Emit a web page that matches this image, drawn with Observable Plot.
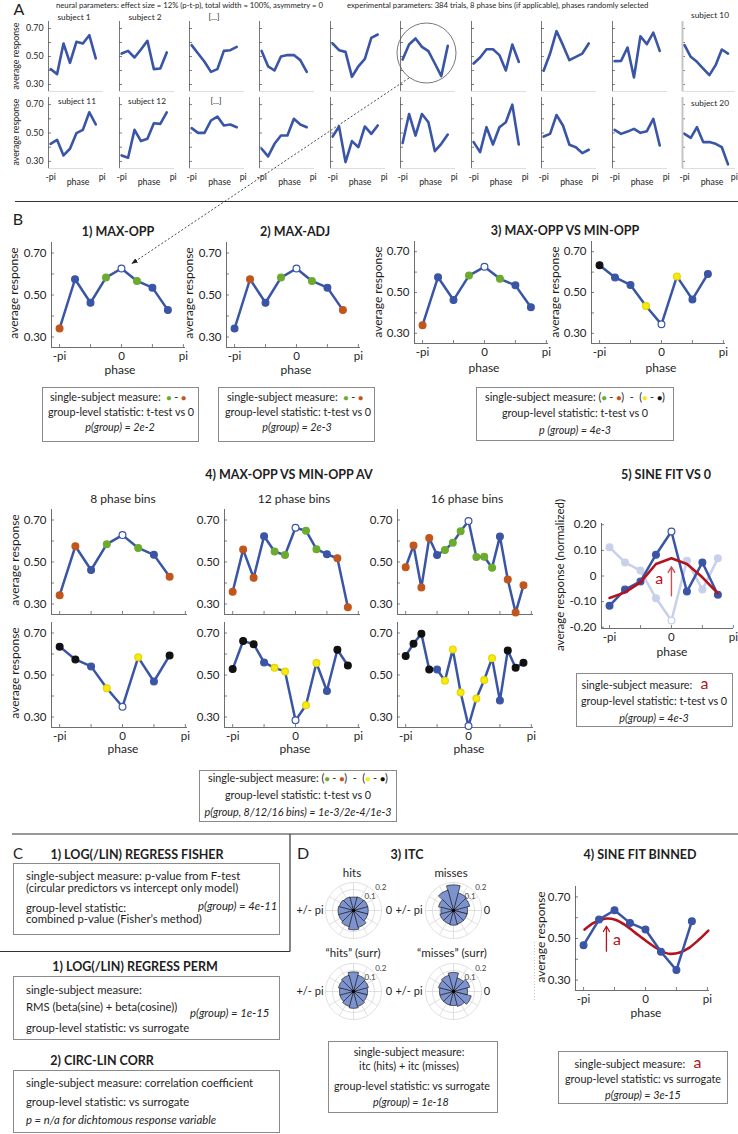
<!DOCTYPE html>
<html><head><meta charset="utf-8">
<script src="https://cdn.jsdelivr.net/npm/d3@7"></script>
<script src="https://cdn.jsdelivr.net/npm/@observablehq/plot@0.6"></script>
<style>
body{margin:0;background:#fff;}
#fig{position:relative;width:738px;height:1134px;overflow:hidden;font-family:Lato,"Open Sans",sans-serif;color:#1e1e1e;background:#fff;}
.t{position:absolute;white-space:nowrap;line-height:0.9;}
.box{position:absolute;border:1px solid #8a8a8a;box-sizing:border-box;}
#fig svg{overflow:visible;}
</style></head><body><div id="fig"></div>
<script>
// ---------------- DATA ----------------
const phase8 = [-3.1416,-2.3562,-1.5708,-0.7854,0,0.7854,1.5708,2.3562];
const phase12 = [-3.1416,-2.618,-2.0944,-1.5708,-1.0472,-0.5236,0,0.5236,1.0472,1.5708,2.0944,2.618];
const phase16 = [-3.1416,-2.7489,-2.3562,-1.9635,-1.5708,-1.1781,-0.7854,-0.3927,0,0.3927,0.7854,1.1781,1.5708,1.9635,2.3562,2.7489];
const phaseTicks = [-3.1416, 0, 3.1416];
const phaseTickLabels = ["-pi","0","pi"];
const phaseTicksA = [-3.1416, 3.1416];
const phaseTickLabelsA = ["-pi","pi"];
const phaseMinor = [-3.1416,-1.5708,0,1.5708,3.1416];
const respTicks = [0.3,0.5,0.7];
const respMinor = [0.3,0.4,0.5,0.6,0.7];
const normTicks = [-0.2,-0.1,0,0.1,0.2];
const normTickLabels = ["-0.20","-0.10","0","0.10","0.20"];

// panel A: 10 subjects per row (8 phase bins)
const aRow1 = [
 [0.41,0.374,0.593,0.455,0.605,0.593,0.652,0.486],
 [0.521,0.54,0.493,0.55,0.612,0.41,0.414,0.529],
 [0.581,0.521,0.462,0.39,0.41,0.54,0.545,0.569],
 [0.54,0.43,0.40,0.50,0.51,0.51,0.474,0.39],
 [0.593,0.545,0.533,0.355,0.43,0.483,0.633,0.657],
 [0.478,0.586,0.629,0.569,0.538,0.45,0.36,0.576],
 [0.45,0.493,0.552,0.552,0.51,0.40,0.586,0.462],
 [0.398,0.521,0.681,0.581,0.474,0.498,0.521,0.593],
 [0.467,0.469,0.564,0.35,0.645,0.588,0.671,0.54],
 [0.581,0.498,0.462,0.414,0.367,0.438,0.55,0.521]
];
const aRow2 = [
 [0.424,0.452,0.342,0.389,0.499,0.522,0.646,0.56],
 [0.342,0.326,0.522,0.443,0.459,0.569,0.564,0.646],
 [0.534,0.501,0.501,0.588,0.616,0.553,0.56,0.541],
 [0.389,0.335,0.424,0.482,0.482,0.6,0.56,0.541],
 [0.475,0.546,0.295,0.443,0.4,0.546,0.494,0.553],
 [0.429,0.634,0.482,0.634,0.576,0.372,0.424,0.489],
 [0.436,0.365,0.541,0.419,0.541,0.576,0.70,0.419],
 [0.475,0.494,0.627,0.553,0.417,0.4,0.358,0.382],
 [0.522,0.494,0.51,0.529,0.501,0.513,0.6,0.412],
 [0.494,0.466,0.541,0.436,0.436,0.424,0.4,0.279]
];
const aTitles1 = ["subject 1","subject 2","[...]","","","","","","","subject 10"];
const aTitles2 = ["subject 11","subject 12","[...]","","","","","","","subject 20"];

// panel B (categories: b blue, o orange, g green, y yellow, k black, w white = max/min)
const bVals = [0.34,0.575,0.463,0.583,0.626,0.567,0.535,0.428];
const bValsShift = [0.634,0.574,0.537,0.434,0.344,0.579,0.466,0.591];
const b1Cat = ["o","b","b","g","w","g","b","b"];
const b2Cat = ["b","o","b","g","w","g","b","o"];
const b3Cat = ["o","b","b","g","w","g","b","b"];
const b3bCat = ["k","b","b","y","w","y","b","b"];
const b4Top8 = [0.342,0.575,0.462,0.585,0.628,0.567,0.534,0.43];
const b4Top8Cat = ["o","o","b","g","w","g","b","o"];
const b4Bot8 = [0.635,0.574,0.541,0.437,0.349,0.584,0.469,0.593];
const b4Bot8Cat = ["k","k","b","y","w","y","b","k"];
const b4Top12 = [0.358,0.559,0.425,0.623,0.55,0.533,0.663,0.649,0.561,0.537,0.518,0.284];
const b4Top12Cat = ["o","o","o","b","g","g","w","g","g","b","o","o"];
const b4Bot12 = [0.528,0.662,0.647,0.56,0.534,0.517,0.284,0.356,0.557,0.424,0.62,0.545];
const b4Bot12Cat = ["k","k","k","b","y","y","w","y","y","b","k","k"];
const b4Top16 = [0.475,0.579,0.379,0.614,0.533,0.557,0.592,0.646,0.695,0.524,0.525,0.473,0.622,0.417,0.259,0.389];
const b4Top16Cat = ["o","o","o","o","b","g","g","g","w","g","g","g","b","o","o","o"];
const b4Bot16 = [0.591,0.649,0.697,0.526,0.526,0.473,0.622,0.417,0.257,0.388,0.476,0.58,0.378,0.617,0.535,0.558];
const b4Bot16Cat = ["k","k","k","k","b","y","y","y","w","y","y","y","b","k","k","k"];
const b5Vals = [-0.116,-0.053,-0.021,0.083,0.174,-0.061,0.053,-0.073];
const b5Cat = ["b","b","b","b","w","b","b","b"];
const b5Faded = [0.112,0.053,0.021,-0.087,-0.174,0.06,-0.053,0.069];
const b5Fit = [-0.086,-0.064,-0.025,0.047,0.069,0.047,-0.005,-0.068];
const b5Arrow = [{x: 0, y1: -0.077, y2: 0.036}];
const b5ALabel = [{x: -0.62, y: -0.012}];

// panel D
const itcHits = [0.105,0.105,0.1,0.095,0.1,0.105,0.11,0.11,0.12,0.138,0.125,0.105];
const itcMisses = [0.1,0.12,0.13,0.183,0.15,0.11,0.09,0.1,0.1,0.105,0.1,0.1];
const itcHitsSurr = [0.1,0.11,0.12,0.14,0.12,0.11,0.1,0.1,0.11,0.12,0.11,0.1];
const itcMissesSurr = [0.1,0.12,0.1,0.136,0.12,0.11,0.1,0.1,0.1,0.1,0.11,0.13];
const polarRings = [0.05,0.1,0.15,0.2];
const polarSpokes = [0,30,60,90,120,150,180,210,240,270,300,330];
const polarRingLabels = [0.1,0.2];
const d4Vals = [0.468,0.591,0.636,0.575,0.543,0.436,0.348,0.583];
const d4FitPhase = [-3.09,-2.63,-2.21,-1.95,-1.53,-1.02,-0.51,0.05,0.59,1.02,1.27,1.70,2.21,2.72,3.19];
const d4FitVals = [0.543,0.575,0.591,0.596,0.590,0.564,0.527,0.487,0.452,0.431,0.426,0.431,0.455,0.495,0.538];
const d4Arrow = [{x: -1.98, y1: 0.439, y2: 0.559}];
const d4ALabel = [{x: -1.44, y: 0.495}];

// ---------------- STYLE ----------------
const FONT = "Lato, 'Open Sans', sans-serif";
const BLUE = "#3a55a6";
const RED = "#b3141c";
const FILL = {b: BLUE, o: "#c1561d", g: "#6cab2e", y: "#f6ea12", k: "#111111", w: "#ffffff"};
const STROKE = {b: BLUE, o: "#c1561d", g: "#6cab2e", y: "#e3d600", k: "#111111", w: BLUE};
const FADE = "#c8d0ea";
const FADEFILL = {b: FADE, w: "#ffffff"};
const FADESTROKE = {b: FADE, w: FADE};
const ROSE = "#7d93cf";
const BOXF = 10.8;   // box text size
const CF = 11.3;     // panel C text size
const AXF = 12;      // axis label size
const fig = document.getElementById("fig");

function txt(x, y, s, o = {}) {
  const d = document.createElement("div");
  d.className = "t";
  d.innerHTML = s;
  const a = o.anchor || "middle";
  const tx = a === "middle" ? "-50%" : a === "end" ? "-100%" : "0";
  d.style.left = x + "px"; d.style.top = y + "px";
  d.style.fontSize = (o.size || 10) + "px";
  if (o.bold) d.style.fontWeight = "bold";
  if (o.italic) d.style.fontStyle = "italic";
  if (o.color) d.style.color = o.color;
  d.style.transform = `translate(${tx},-50%)` + (o.rotate ? ` rotate(${o.rotate}deg)` : "");
  fig.appendChild(d);
  return d;
}
function box(l, t, w, h) {
  const d = document.createElement("div");
  d.className = "box";
  Object.assign(d.style, {left: l + "px", top: t + "px", width: w + "px", height: h + "px"});
  fig.appendChild(d);
}
const dot = c => `<span style="color:${FILL[c]};font-size:0.8em">&#9679;</span>`;

function chart(o) {
  const mL = 40, mR = 12, mT = 8, mB = 26;
  const xd = o.xd, yd = o.yd;
  const sx = o.w / (xd[1] - xd[0]), sy = o.h / (yd[1] - yd[0]);
  const ac = o.ac || "#4a4a4a";
  const marks = [];
  if (o.yMinor) marks.push(Plot.ruleY(o.yMinor, {x1: xd[0], x2: xd[0] + 3 / sx, stroke: ac, strokeWidth: 0.7}));
  if (o.xMinor) marks.push(Plot.ruleX(o.xMinor, {y1: yd[0], y2: yd[0] + 3 / sy, stroke: ac, strokeWidth: 0.7}));
  if (o.bottom !== false) marks.push(Plot.ruleY([yd[0]], {stroke: o.bc || ac, strokeWidth: 0.8}));
  marks.push(Plot.ruleX([xd[0]], {stroke: o.lc || ac, strokeWidth: o.lw || 0.8}));
  if (o.yTicks) marks.push(Plot.axisY({ticks: o.yTicks, tickSize: 0, tickPadding: o.yPad ?? 5,
    tickFormat: o.yLabels ? (d => o.yLabels[o.yTicks.indexOf(d)]) : (d => d.toFixed(2)), label: null}));
  if (o.xTicks) marks.push(Plot.axisX({ticks: o.xTicks, tickSize: 0, tickPadding: o.xPad ?? 4,
    tickFormat: d => o.xLabels[o.xTicks.indexOf(d)], label: null}));
  marks.push(...o.marks);
  const p = Plot.plot({
    width: o.w + mL + mR, height: o.h + mT + mB,
    marginLeft: mL, marginRight: mR, marginTop: mT, marginBottom: mB,
    x: {domain: xd, axis: null}, y: {domain: yd, axis: null},
    color: {type: "identity"},
    style: {fontFamily: FONT, fontSize: (o.fs || 11.5) + "px", color: "#1e1e1e", background: "transparent", overflow: "visible"},
    marks
  });
  p.style.position = "absolute";
  p.style.left = (o.left - mL) + "px";
  p.style.top = (o.top - mT) + "px";
  p.style.maxWidth = "none";
  fig.appendChild(p);
}

function series(xs, vals, cats, o = {}) {
  const data = vals.map((v, i) => ({x: xs[i], y: v, c: cats ? cats[i] : "b"}));
  const fm = o.fillMap || FILL, sm = o.strokeMap || STROKE;
  return [
    Plot.line(data, {x: "x", y: "y", stroke: o.color || BLUE, strokeWidth: o.sw || 2.5}),
    Plot.dot(data, {x: "x", y: "y", r: o.r || 3.4, fill: d => fm[d.c], stroke: d => sm[d.c], strokeWidth: 1.2})
  ];
}

// ---------------- PANEL A ----------------
txt(19, 9, "A", {size: 16});
txt(56, 5, "neural parameters: effect size = 12% (p-t-p), total width = 100%, asymmetry = 0", {anchor: "start", size: 7.7});
txt(347, 5, "experimental parameters: 384 trials, 8 phase bins (if applicable), phases randomly selected", {anchor: "start", size: 7.7});
const aNegPi = [50, 121, 191.5, 261.5, 332, 402.5, 473, 543.5, 614, 684];
const aTop = [21, 97], aH = [70, 71];
[aRow1, aRow2].forEach((row, r) => {
  row.forEach((vals, c) => {
    chart({left: aNegPi[c] - 2.1, top: aTop[r], w: c === 9 ? 53 : 55, h: aH[r], xd: [-3.4, 3.3], yd: [0.25, 0.75], fs: 8.8,
      yMinor: respMinor, yTicks: c === 0 ? respTicks : null, yPad: 5,
      xTicks: r === 1 ? phaseTicksA : null, xLabels: phaseTickLabelsA, xPad: 5,
      bc: "#d6d6d6", lc: c === 9 ? "#c4c4c4" : "#555", lw: c === 9 ? 2 : 0.8,
      marks: [Plot.line(vals, {x: (d, i) => phase8[i], y: d => d, stroke: BLUE, strokeWidth: 2.6})]});
    if (r === 1) txt(aNegPi[c] + 28, 182, "phase", {size: 8.8});
  });
});
[[74,18],[145,18],[214,18],null,null,null,null,null,null,[710,16]].forEach((p, c) => { if (p) txt(p[0], p[1], aTitles1[c], {size: 8.3}); });
[[77,102],[147,102],[216,102],null,null,null,null,null,null,[710,104]].forEach((p, c) => { if (p) txt(p[0], p[1], aTitles2[c], {size: 8.3}); });
txt(16, 56, "average response", {size: 8.8, rotate: -90});
txt(16, 132, "average response", {size: 8.8, rotate: -90});

// ---------------- PANEL B ----------------
txt(18, 219, "B", {size: 16});
const bXd = [-3.55, 3.25];
function bChart(left, top, w, h, xs, vals, cats, showX, extra = [], yTicks = true) {
  chart({left, top, w, h, xd: bXd, yd: [0.25, 0.75], fs: 11.5, yMinor: respMinor, yTicks: yTicks ? respTicks : null,
    xMinor: phaseMinor, xTicks: showX ? phaseTicks : null, xLabels: phaseTickLabels, xPad: 4,
    marks: [...extra, ...series(xs, vals, cats)]});
}
txt(118, 232, "1) MAX-OPP", {size: 12.5, bold: true});
txt(295, 232, "2) MAX-ADJ", {size: 12.5, bold: true});
txt(565, 231, "3) MAX-OPP VS MIN-OPP", {size: 12.5, bold: true});
bChart(50.5, 242, 134, 105, phase8, bVals, b1Cat, true);
bChart(226, 242, 134, 105, phase8, bVals, b2Cat, true);
bChart(413.5, 241, 134, 102, phase8, bVals, b3Cat, true);
bChart(590.5, 241, 134, 102, phase8, bValsShift, b3bCat, true);
txt(14, 293, "average response", {size: AXF, rotate: -90});
txt(189, 293, "average response", {size: AXF, rotate: -90});
txt(378, 292, "average response", {size: AXF, rotate: -90});
txt(555, 292, "average response", {size: AXF, rotate: -90});
txt(120, 370, "phase", {size: AXF}); txt(296, 370, "phase", {size: AXF});
txt(484, 368, "phase", {size: AXF}); txt(661, 368, "phase", {size: AXF});

box(42, 387, 157, 55);
txt(118, 397, `single-subject measure: &nbsp;${dot("g")} - ${dot("o")}`, {size: BOXF});
txt(121, 412, "group-level statistic: t-test vs 0", {size: BOXF});
txt(120, 427, "p(group) = 2e-2", {size: BOXF, italic: true});
box(218, 387, 157, 55);
txt(295, 397, `single-subject measure: &nbsp;${dot("g")} - ${dot("o")}`, {size: BOXF});
txt(298, 412, "group-level statistic: t-test vs 0", {size: BOXF});
txt(297, 427, "p(group) = 2e-3", {size: BOXF, italic: true});
box(476, 387, 198, 54);
txt(575, 397, `single-subject measure: (${dot("g")} - ${dot("o")}) &nbsp;- &nbsp;(${dot("y")} - ${dot("k")})`, {size: BOXF});
txt(575, 413, "group-level statistic: t-test vs 0", {size: BOXF});
txt(575, 430, "p (group) = 4e-3", {size: BOXF, italic: true});

// B4
txt(289, 475, "4) MAX-OPP VS MIN-OPP AV", {size: 12.5, bold: true});
txt(123, 499, "8 phase bins", {size: 12});
txt(294, 499, "12 phase bins", {size: 12});
txt(467, 499, "16 phase bins", {size: 12});
bChart(51, 508.5, 136, 105, phase8, b4Top8, b4Top8Cat, false);
bChart(51, 621.5, 136, 105, phase8, b4Bot8, b4Bot8Cat, true);
bChart(223.5, 508.5, 136, 105, phase12, b4Top12, b4Top12Cat, false);
bChart(223.5, 621.5, 136, 105, phase12, b4Bot12, b4Bot12Cat, true);
bChart(397, 508.5, 136, 105, phase16, b4Top16, b4Top16Cat, false);
bChart(397, 621.5, 136, 105, phase16, b4Bot16, b4Bot16Cat, true);
txt(15, 560, "average response", {size: AXF, rotate: -90});
txt(15, 673, "average response", {size: AXF, rotate: -90});
txt(123, 749, "phase", {size: AXF}); txt(295, 749, "phase", {size: AXF}); txt(469, 749, "phase", {size: AXF});
box(199, 770, 198, 52);
txt(298, 778, `single-subject measure: (${dot("g")} - ${dot("o")}) &nbsp;- &nbsp;(${dot("y")} - ${dot("k")})`, {size: BOXF});
txt(298, 795, "group-level statistic: t-test vs 0", {size: BOXF});
txt(298, 812, "p(group, 8/12/16 bins) = 1e-3/2e-4/1e-3", {size: BOXF, italic: true});

// B5
txt(666, 475, "5) SINE FIT VS 0", {size: 12.5, bold: true});
chart({left: 601, top: 523, w: 132, h: 105, xd: [-3.55, 3.15], yd: [-0.205, 0.205], fs: 11.5,
  yMinor: normTicks, yTicks: normTicks, yLabels: normTickLabels, xMinor: phaseMinor,
  xTicks: phaseTicks, xLabels: phaseTickLabels, xPad: 4,
  marks: [
    ...series(phase8, b5Faded, b5Cat, {color: FADE, fillMap: FADEFILL, strokeMap: FADESTROKE}),
    ...series(phase8, b5Vals, b5Cat),
    Plot.line(b5Fit, {x: (d, i) => phase8[i], y: d => d, stroke: RED, strokeWidth: 2.6}),
    Plot.arrow(b5Arrow, {x1: "x", x2: "x", y1: "y1", y2: "y2", stroke: "#c8505a", strokeWidth: 1.4, headLength: 7}),
    Plot.text(b5ALabel, {x: "x", y: "y", text: () => "a", fill: RED, fontSize: 16})
  ]});
txt(560, 575, "average response (normalized)", {size: 11.5, rotate: -90});
txt(672, 652, "phase", {size: AXF});
box(576, 673, 157, 54);
txt(645, 683, `single-subject measure: &nbsp;&nbsp;<span style="color:${RED};font-size:16px">a</span>`, {size: BOXF});
txt(654, 701, "group-level statistic: t-test vs 0", {size: BOXF});
txt(654, 718, "p(group) = 4e-3", {size: BOXF, italic: true});

// ---------------- PANEL C ----------------
txt(18, 854, "C", {size: 15});
txt(137, 855, "1) LOG(/LIN) REGRESS FISHER", {size: 12.5, bold: true});
box(13, 863, 267, 72);
txt(26, 876, "single-subject measure: p-value from F-test", {anchor: "start", size: CF});
txt(26, 887.5, "(circular predictors vs intercept only model)", {anchor: "start", size: CF});
txt(26, 908, "group-level statistic:", {anchor: "start", size: CF});
txt(198, 906, "p(group) = 4e-11", {anchor: "start", size: CF, italic: true});
txt(26, 919, "combined p-value (Fisher’s method)", {anchor: "start", size: CF});
txt(135, 967, "1) LOG(/LIN) REGRESS PERM", {size: 12.5, bold: true});
box(13, 976, 267, 64);
txt(26, 990, "single-subject measure:", {anchor: "start", size: CF});
txt(26, 1007, "RMS (beta(sine) + beta(cosine))", {anchor: "start", size: CF});
txt(190, 1013, "p(group) = 1e-15", {anchor: "start", size: CF, italic: true});
txt(26, 1028, "group-level statistic: vs surrogate", {anchor: "start", size: CF});
txt(102, 1061, "2) CIRC-LIN CORR", {size: 12.5, bold: true});
box(13, 1070, 267, 63);
txt(26, 1083, "single-subject measure: correlation coefficient", {anchor: "start", size: CF});
txt(26, 1102, "group-level statistic: vs surrogate", {anchor: "start", size: CF});
txt(26, 1120, "p = n/a for dichtomous response variable", {anchor: "start", size: CF, italic: true});

// ---------------- PANEL D ----------------
txt(303, 853, "D", {size: 16});
txt(407, 855, "3) ITC", {size: 12.5, bold: true});
function polar(cx, cy, vals) {
  const R = 28, m = 14, dom = 0.2;
  const nb = vals.length, bw = 2 * Math.PI / nb;
  const sect = [];
  vals.forEach((r, i) => {
    const c = i * bw;
    sect.push({s: i, x: 0, y: 0});
    for (let k = 0; k <= 6; k++) { const a = c - bw / 2 + k * bw / 6; sect.push({s: i, x: r * Math.cos(a), y: r * Math.sin(a)}); }
  });
  const ringPts = [];
  polarRings.forEach((r, j) => { for (let k = 0; k <= 72; k++) { const a = k * 2 * Math.PI / 72; ringPts.push({ring: j, x: r * Math.cos(a), y: r * Math.sin(a)}); } });
  const spokes = polarSpokes.map(deg => ({x: dom * Math.cos(deg * Math.PI / 180), y: dom * Math.sin(deg * Math.PI / 180)}));
  const p = Plot.plot({
    width: 2 * R + 2 * m, height: 2 * R + 2 * m, margin: m,
    x: {domain: [-dom, dom], axis: null}, y: {domain: [-dom, dom], axis: null},
    style: {fontFamily: FONT, background: "transparent", overflow: "visible"},
    marks: [
      Plot.line(ringPts, {x: "x", y: "y", z: "ring", stroke: "#d2d2d2", strokeWidth: 0.7}),
      Plot.link(spokes, {x1: 0, y1: 0, x2: "x", y2: "y", stroke: "#d2d2d2", strokeWidth: 0.7}),
      Plot.line(sect, {x: "x", y: "y", z: "s", fill: ROSE, stroke: "#1a1a1a", strokeWidth: 0.7, curve: "linear-closed"}),
      Plot.dot([0], {x: 0, y: 0, r: 1.8, fill: "#000"}),
      Plot.text(polarRingLabels, {x: d => (d + 0.055) * Math.cos(0.7), y: d => (d + 0.055) * Math.sin(0.7), text: d => String(d), fontSize: 8, fill: "#444"})
    ]
  });
  p.style.position = "absolute";
  p.style.left = (cx - R - m) + "px";
  p.style.top = (cy - R - m) + "px";
  fig.appendChild(p);
}
polar(353, 910, itcHits);
polar(453, 910, itcMisses);
polar(353, 991, itcHitsSurr);
polar(453, 991, itcMissesSurr);
txt(352, 873, "hits", {size: 11.5}); txt(451, 873, "misses", {size: 11.5});
txt(353, 953, "“hits” (surr)", {size: 11.5}); txt(452, 953, "“misses” (surr)", {size: 11.5});
[[910],[991]].forEach(([y]) => {
  txt(310, y, "+/- pi", {size: 11}); txt(389, y, "0", {size: 11});
  txt(409, y, "+/- pi", {size: 11}); txt(487, y, "0", {size: 11});
});
box(328, 1041, 170, 72);
txt(409, 1052, "single-subject measure:", {size: BOXF});
txt(409, 1065.5, "itc (hits) + itc (misses)", {size: BOXF});
txt(412, 1085.5, "group-level statistic: vs surrogate", {size: BOXF});
txt(411, 1102, "p(group) = 1e-18", {size: BOXF, italic: true});

// D4
txt(640, 855, "4) SINE FIT BINNED", {size: 12.5, bold: true});
chart({left: 575, top: 886, w: 134, h: 104, xd: [-3.55, 3.25], yd: [0.25, 0.75], fs: 11.5,
  yMinor: respMinor, yTicks: respTicks, xMinor: phaseMinor, xTicks: phaseTicks, xLabels: phaseTickLabels, xPad: 4,
  marks: [
    Plot.line(d4FitVals, {x: (d, i) => d4FitPhase[i], y: d => d, stroke: RED, strokeWidth: 2.6, curve: "catmull-rom"}),
    ...series(phase8, d4Vals, null),
    Plot.arrow(d4Arrow, {x1: "x", x2: "x", y1: "y1", y2: "y2", stroke: RED, strokeWidth: 1.3, headLength: 7}),
    Plot.text(d4ALabel, {x: "x", y: "y", text: () => "a", fill: RED, fontSize: 16})
  ]});
txt(541, 937, "average response", {size: AXF, rotate: -90});
txt(646, 1013, "phase", {size: AXF});
box(558, 1051, 170, 53);
txt(638, 1062, `single-subject measure: &nbsp;&nbsp;<span style="color:${RED};font-size:16px">a</span>`, {size: BOXF});
txt(643, 1078.5, "group-level statistic: vs surrogate", {size: BOXF});
txt(643, 1095, "p(group) = 3e-15", {size: BOXF, italic: true});

// ---------------- OVERLAY (separators, zoom circle, dashed pointer) ----------------
const sepLines = [
  {x1: 15, y1: 201.5, x2: 738, y2: 201.5},
  {x1: 12, y1: 834, x2: 738, y2: 834},
  {x1: 290, y1: 834, x2: 290, y2: 951.5},
  {x1: 0, y1: 951.5, x2: 290, y2: 951.5}
];
const ov = d3.create("svg").attr("width", 738).attr("height", 1134)
  .style("position", "absolute").style("left", "0").style("top", "0").style("pointer-events", "none");
ov.append("defs").append("marker").attr("id", "ah").attr("viewBox", "0 0 10 10").attr("refX", 9).attr("refY", 5)
  .attr("markerWidth", 7).attr("markerHeight", 7).attr("orient", "auto")
  .append("path").attr("d", "M0,1 L10,5 L0,9 z").attr("fill", "#222");
sepLines.forEach(l => ov.append("line").attr("x1", l.x1).attr("y1", l.y1).attr("x2", l.x2).attr("y2", l.y2)
  .attr("stroke", "#333").attr("stroke-width", 1.2));
ov.append("line").attr("x1", 534.5).attr("y1", 942).attr("x2", 534.5).attr("y2", 1000)
  .attr("stroke", "#bbb").attr("stroke-width", 0.8).attr("stroke-dasharray", "1,2");
ov.append("ellipse").attr("cx", 426.5).attr("cy", 53).attr("rx", 29.5).attr("ry", 30)
  .attr("fill", "none").attr("stroke", "#555").attr("stroke-width", 0.8);
ov.append("line").attr("x1", 409).attr("y1", 78).attr("x2", 132).attr("y2", 263.5)
  .attr("stroke", "#333").attr("stroke-width", 0.9).attr("stroke-dasharray", "2,2").attr("marker-end", "url(#ah)");
fig.appendChild(ov.node());
</script></body></html>
